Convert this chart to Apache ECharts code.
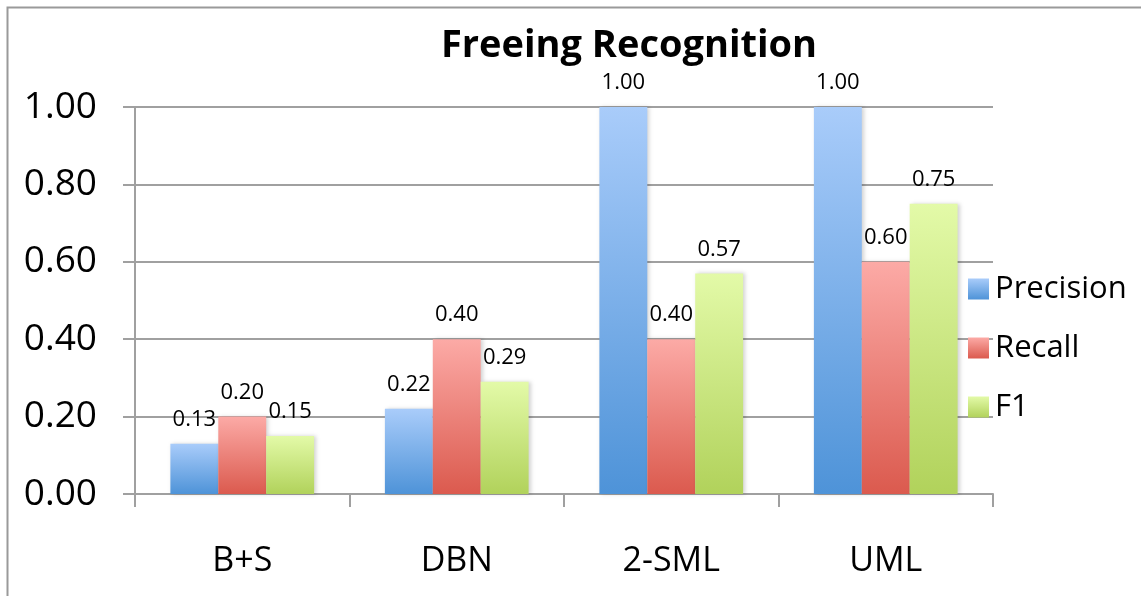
<!DOCTYPE html>
<html>
<head>
<meta charset="utf-8">
<script src="https://cdn.jsdelivr.net/npm/echarts@6/dist/echarts.min.js"></script>
<style>
html,body{margin:0;padding:0;background:#fff;}
#chart{width:1141px;height:596px;}
</style>
</head>
<body>
<div id="chart"></div>
<script>
var titleText = 'Freeing Recognition';
var categories = ['B+S', 'DBN', '2-SML', 'UML'];
var seriesNames = ['Precision', 'Recall', 'F1'];
var precision = [0.13, 0.22, 1.00, 1.00];
var recall = [0.20, 0.40, 0.40, 0.60];
var f1 = [0.15, 0.29, 0.57, 0.75];
var yTicks = [0, 0.2, 0.4, 0.6, 0.8, 1.0];

var FONT = '"Open Sans", sans-serif';
function grad(top, bottom) {
  return new echarts.graphic.LinearGradient(0, 0, 0, 1, [
    {offset: 0, color: top}, {offset: 1, color: bottom}
  ]);
}
var colors = [
  grad('#a9ccfa', '#4e93d8'),
  grad('#fcaaa6', '#db5a4e'),
  grad('#e3faa8', '#b1d25b')
];
var dataSets = [precision, recall, f1];

var chart = echarts.init(document.getElementById('chart'));
var option = {
  animation: false,
  backgroundColor: '#fff',
  title: {
    text: titleText,
    left: 624,
    top: 22,
    textAlign: 'center',
    textStyle: {fontFamily: FONT, fontWeight: 'bold', fontSize: 38, color: '#000'}
  },
  legend: {
    orient: 'vertical',
    left: 963,
    top: 268,
    itemWidth: 21,
    itemHeight: 21,
    itemGap: 27,
    icon: 'rect',
    textStyle: {fontFamily: FONT, fontSize: 31, color: '#000', lineHeight: 32, padding: [0, 0, 0, 1]},
    data: seriesNames
  },
  graphic: [{
    type: 'rect',
    shape: {x: 7.5, y: 7.5, width: 1400, height: 800},
    style: {fill: 'none', stroke: '#9a9a9a', lineWidth: 2},
    silent: true,
    z: -10
  }],
  grid: {left: 135, right: 148, top: 107, bottom: 102, containLabel: false},
  xAxis: {
    type: 'category',
    data: categories,
    axisLine: {lineStyle: {color: '#a0a0a0', width: 2}},
    axisTick: {show: true, length: 13, lineStyle: {color: '#a0a0a0', width: 2}},
    axisLabel: {fontFamily: FONT, fontSize: 34, color: '#000', margin: 50}
  },
  yAxis: {
    type: 'value',
    min: yTicks[0],
    max: yTicks[yTicks.length - 1],
    interval: 0.2,
    axisLine: {show: true, lineStyle: {color: '#a0a0a0', width: 2}},
    axisTick: {show: true, length: 12, lineStyle: {color: '#a0a0a0', width: 2}},
    splitLine: {lineStyle: {color: '#a0a0a0', width: 2}},
    axisLabel: {
      fontFamily: FONT, fontSize: 37, color: '#000', margin: 38,
      formatter: function (v) { return v.toFixed(2); }
    }
  },
  series: seriesNames.map(function (name, i) {
    return {
      name: name,
      type: 'bar',
      data: dataSets[i],
      barGap: '0%',
      barCategoryGap: '33%',
      itemStyle: {
        color: colors[i],
        shadowColor: 'rgba(0,0,0,0.18)',
        shadowBlur: 4,
        shadowOffsetX: 2,
        shadowOffsetY: 0
      },
      label: {
        show: true,
        position: 'top',
        distance: 13,
        fontFamily: FONT,
        fontSize: 22,
        color: '#000',
        formatter: function (p) { return p.value.toFixed(2); }
      }
    };
  })
};
chart.setOption(option);
</script>
</body>
</html>
